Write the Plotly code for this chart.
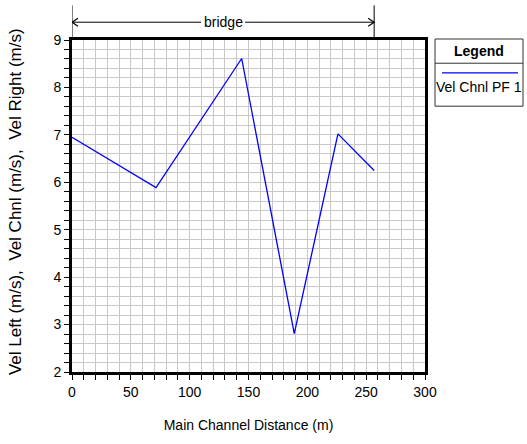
import plotly.graph_objects as go

# data
dist = [0, 71.4, 144.2, 170, 188.9, 226, 256.8]
vel_chnl = [6.95, 5.89, 8.61, 5.25, 2.81, 7.02, 6.25]
series_name = "Vel Chnl PF 1"
bridge_start = 0
bridge_end = 256.8
x_ticks = [0, 50, 100, 150, 200, 250, 300]
y_ticks = [2, 3, 4, 5, 6, 7, 8, 9]

W, H = 527, 444
L, R, T, B = 72, 425, 40, 376


def xp(px):
    return (px - L) / (R - L)


def yp(py):
    return (B - py) / (B - T)


FONT = "Liberation Sans, Arial"

fig = go.Figure()
fig.add_trace(go.Scatter(x=dist, y=vel_chnl, mode="lines", name=series_name,
                         line=dict(color="#0000ff", width=1.3), showlegend=False))

grid = "#c8c8c8"
fig.update_xaxes(range=[0, 300], tickvals=x_ticks, ticks="outside", ticklen=5,
                 tickcolor="black", showline=True, linecolor="black", linewidth=3,
                 mirror=True, showgrid=True, gridcolor=grid, gridwidth=1, zeroline=False,
                 minor=dict(dtick=10, ticks="outside", ticklen=5, tickcolor="black",
                            showgrid=True, gridcolor=grid, gridwidth=1),
                 tickfont=dict(family=FONT, size=14, color="black"),
                 title=dict(text="Main Channel Distance (m)",
                            font=dict(family=FONT, size=14, color="black"), standoff=22))
fig.update_yaxes(range=[2, 9], tickvals=y_ticks, ticks="outside", ticklen=5,
                 tickcolor="black", showline=True, linecolor="black", linewidth=3,
                 mirror=True, showgrid=True, gridcolor=grid, gridwidth=1, zeroline=False,
                 minor=dict(dtick=0.2, ticks="outside", ticklen=5, tickcolor="black",
                            showgrid=True, gridcolor=grid, gridwidth=1),
                 tickfont=dict(family=FONT, size=14, color="black"))

shapes = []
annotations = []

# bridge markers
top_y, arr_y = yp(5), yp(22)
for bx in (bridge_start, bridge_end):
    shapes.append(dict(type="line", xref="x", yref="paper", x0=bx, x1=bx, y0=1, y1=top_y,
                       line=dict(color="black", width=1)))
bmid = (bridge_start + bridge_end) / 2
gap = 22 / 1.1767
shapes.append(dict(type="line", xref="x", yref="paper", x0=bridge_start, x1=bmid - gap,
                   y0=arr_y, y1=arr_y, line=dict(color="black", width=1)))
shapes.append(dict(type="line", xref="x", yref="paper", x0=bmid + gap, x1=bridge_end,
                   y0=arr_y, y1=arr_y, line=dict(color="black", width=1)))
dx = 6 / 1.1767
dy = 4 / (B - T)
shapes.append(dict(type="path", xref="x", yref="paper",
                   path=f"M {bridge_start + dx},{arr_y + dy} L {bridge_start},{arr_y} L {bridge_start + dx},{arr_y - dy}",
                   line=dict(color="black", width=1.2)))
shapes.append(dict(type="path", xref="x", yref="paper",
                   path=f"M {bridge_end - dx},{arr_y + dy} L {bridge_end},{arr_y} L {bridge_end - dx},{arr_y - dy}",
                   line=dict(color="black", width=1.2)))
annotations.append(dict(x=bmid, y=arr_y, xref="x", yref="paper", text="bridge", showarrow=False,
                        font=dict(family=FONT, size=14, color="black"),
                        xanchor="center", yanchor="middle"))

# legend box
shapes.append(dict(type="rect", xref="paper", yref="paper", x0=xp(435), x1=xp(523),
                   y0=yp(39), y1=yp(107), line=dict(color="#333333", width=1)))
shapes.append(dict(type="line", xref="paper", yref="paper", x0=xp(435), x1=xp(523),
                   y0=yp(63.5), y1=yp(63.5), line=dict(color="#333333", width=1)))
shapes.append(dict(type="line", xref="paper", yref="paper", x0=xp(442), x1=xp(518),
                   y0=yp(73.3), y1=yp(73.3), line=dict(color="#0000ff", width=1.3)))
annotations.append(dict(x=xp(479), y=yp(51), xref="paper", yref="paper", text="<b>Legend</b>",
                        showarrow=False, font=dict(family=FONT, size=14, color="black"),
                        xanchor="center", yanchor="middle"))
annotations.append(dict(x=xp(479), y=yp(88), xref="paper", yref="paper", text=series_name,
                        showarrow=False, font=dict(family=FONT, size=14, color="black"),
                        xanchor="center", yanchor="middle"))

# y axis title
annotations.append(dict(x=xp(15), y=yp(204), xref="paper", yref="paper",
                        text="Vel Left (m/s),  Vel Chnl (m/s),  Vel Right (m/s)",
                        textangle=-90, showarrow=False,
                        font=dict(family=FONT, size=17, color="black"),
                        xanchor="center", yanchor="middle"))

fig.update_layout(width=W, height=H, margin=dict(l=L, r=W - R, t=T, b=H - B, pad=0),
                  paper_bgcolor="white", plot_bgcolor="white",
                  shapes=shapes, annotations=annotations, showlegend=False)

fig.write_html("out.html", config={"displayModeBar": False},
               post_script="document.body.style.margin='0';")
